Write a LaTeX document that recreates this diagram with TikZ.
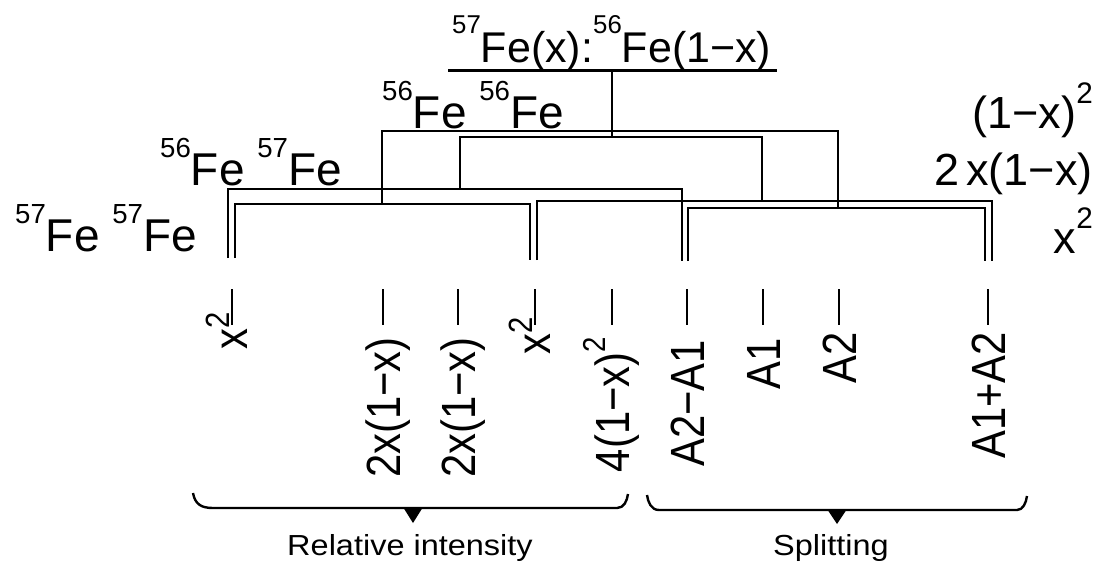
\documentclass[tikz,border=0pt]{standalone}
\usepackage{fontspec}
\usepackage{graphicx}
\setmainfont{Liberation Sans}
\newfontfamily\rotfont[FakeStretch=0.87]{Liberation Sans}
\newfontfamily\lowfont[FakeStretch=1.12]{Liberation Sans}
\newcommand\su[2][0.6em]{\raisebox{#1}{\scalebox{0.6}{#2}}}
\newcommand\sus[3]{\raisebox{#1}{\scalebox{#2}{#3}}}
\begin{document}
\begin{tikzpicture}[x=1pt,y=-1pt,
  br/.style={line width=2.5pt, line join=miter},
  tk/.style={line width=2.5pt},
  bc/.style={line width=2.4pt, line join=round},
  hl/.style={font=\fontsize{46}{50}\selectfont, inner sep=0pt, anchor=base west},
  rl/.style={font=\fontsize{45}{50}\selectfont, inner sep=0pt, anchor=base east},
  rot/.style={font=\rotfont\fontsize{48}{50}\selectfont, inner sep=0pt, rotate=90, anchor=base east},
  lab/.style={font=\lowfont\fontsize{29}{32}\selectfont, inner sep=0pt, anchor=base}]
\useasboundingbox (0,0) rectangle (1106,571);

% title
\node[font=\fontsize{43}{50}\selectfont, inner sep=0pt, anchor=base west] (title) at (452,62)
  {\su[0.66em]{57}Fe(x):\su[0.66em]{56}Fe(1−x)};
\coordinate (ul) at (448,70);
\coordinate (ur) at (777,70);
\draw[line width=3pt] (ul) -- (ur);
\coordinate (s0) at (612,70);
\coordinate (s1) at (612,137);
\draw[br] (s0) -- (s1);

% left level labels
\node[hl] (lC) at (382,128) {\su{56}Fe \su{56}Fe};
\node[hl] (lB) at (160,185) {\su{56}Fe \su{57}Fe};
\node[hl] (lA) at (15,251) {\su{57}Fe \su{57}Fe};

% right level labels
\node[rl] (rC) at (1093,128) {(1−x)\sus{0.55em}{0.66}{2}};
\node[rl] (rB) at (1093,185) {2\hspace{0.15em}x(1−x)};
\node[rl] (rA) at (1093,253) {x\sus{0.55em}{0.66}{2}};

% upper brackets
\coordinate (p1) at (382,131); \coordinate (p2) at (838,131);
\coordinate (q1) at (460,137); \coordinate (q2) at (762,137);
\draw[br] (382,204) -- (p1) -- (p2) -- (838,208);
\draw[br] (460,189) -- (q1) -- (q2) -- (762,201);

% lower brackets
\draw[br] (228,258) -- (228,189) -- (682,189) -- (682,261);
\draw[br] (235,258) -- (235,204) -- (530,204) -- (530,260);
\draw[br] (537,260) -- (537,201) -- (992,201) -- (992,261);
\draw[br] (688,261) -- (688,208) -- (985,208) -- (985,261);

% rotated labels with ticks
\foreach \n/\x/\c/\y/\t in {
  a/232/15/312/{x\sus{0.36em}{0.7}{2}},
  b/383/17/337/{2x(1−x)},
  c/458/17/337/{2x(1−x)},
  d/535/15/317/{x\sus{0.36em}{0.7}{2}},
  e/612/17/337/{4(1−x)\sus{0.48em}{0.66}{2}},
  f/687/17/340/{A2−A1},
  g/763/17/338/{A1},
  h/839/17/332/{A2},
  i/988/17/332/{A1+A2}}{
  \node[rot] (t\n) at (\x+\c,\y) {\t};
  \coordinate (k\n) at (\x,289);
  \draw[tk] (k\n) -- ++(0,36);
}

% braces
\draw[bc] (193,493) .. controls (195,504) and (201,508) .. (213,508) -- (617,508)
  .. controls (624,508) and (627,501) .. (628,494);
\fill (403,507) -- (423,507) -- (413,523) -- cycle;
\node[lab] (ri) at (410,555) {Relative intensity};

\draw[bc] (647,495) .. controls (648,502) and (651,510) .. (659,510) -- (1017,510)
  .. controls (1023,510) and (1026,503) .. (1027,496);
\fill (827,509) -- (847,509) -- (837,524) -- cycle;
\node[lab] (sp) at (831,555) {Splitting};
\end{tikzpicture}
\end{document}
